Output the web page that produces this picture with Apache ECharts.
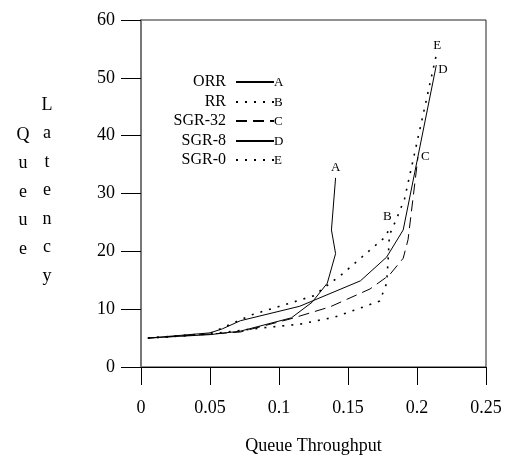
<!DOCTYPE html>
<html>
<head>
<meta charset="utf-8">
<script src="https://cdn.jsdelivr.net/npm/echarts@6/dist/echarts.min.js"></script>
<style>
html,body{margin:0;padding:0;background:#fff;}
#main{width:515px;height:463px;}
</style>
</head>
<body>
<div id="main"></div>
<script>
var chart = echarts.init(document.getElementById('main'));

// 数据 [throughput, latency]
var names = ['ORR', 'RR', 'SGR-32', 'SGR-8', 'SGR-0'];
var letters = ['A', 'B', 'C', 'D', 'E'];
var orr = [[0.005,5],[0.05,5.6],[0.072,6.2],[0.109,8.5],[0.124,11.2],[0.135,14.5],[0.141,19.6],[0.138,23.7],[0.141,32.7]];
var rr = [[0.005,5],[0.05,5.8],[0.08,9.0],[0.125,12.3],[0.146,16.1],[0.178,22.7],[0.18,24.4]];
var sgr32 = [[0.005,5],[0.05,5.7],[0.072,6.05],[0.108,8.3],[0.137,10.4],[0.166,13.5],[0.18,15.9],[0.19,18.8],[0.1935,22],[0.2007,36.3]];
var sgr8 = [[0.005,5],[0.05,5.9],[0.059,6.6],[0.072,8.0],[0.115,10.5],[0.159,14.9],[0.178,19.0],[0.19,23.7],[0.214,52.2]];
var sgr0 = [[0.005,5],[0.05,5.7],[0.085,6.7],[0.115,7.4],[0.14,8.6],[0.159,10.2],[0.173,11.4],[0.178,14.5],[0.179,18.2],[0.18,22.8],[0.1855,25.8],[0.191,29.1],[0.214,54]];
var xTicks = [0, 0.05, 0.1, 0.15, 0.2, 0.25];
var yTicks = [0, 10, 20, 30, 40, 50, 60];

var allData = [orr, rr, sgr32, sgr8, sgr0];
var lineTypes = ['solid', [2, 7], [11, 6], 'solid', [2, 7]];
var lineWidths = [1, 1.6, 1, 1, 1.6];
// 曲线末端字母位置
var endLabelPos = [
    {align:'center', verticalAlign:'bottom', offset:[0,-4]},
    {align:'center', verticalAlign:'bottom', offset:[-2,-3]},
    {align:'left', verticalAlign:'middle', offset:[3,0]},
    {align:'left', verticalAlign:'middle', offset:[2,4]},
    {align:'center', verticalAlign:'bottom', offset:[1,-3]}
];
var serif = 'Liberation Serif';

var series = [];
var legends = [];
var graphics = [];
var legendTop = [83, 103, 122, 142, 161];
for (var i = 0; i < names.length; i++) {
    series.push({
        name: names[i],
        type: 'line',
        data: allData[i],
        symbol: 'none',
        animation: false,
        color: '#000',
        itemStyle: {color: '#000'},
        lineStyle: {color:'#000', width: lineWidths[i], type: lineTypes[i]},
        endLabel: {
            show: true,
            formatter: letters[i],
            distance: 0,
            color: '#000',
            fontFamily: serif,
            fontSize: 13,
            align: endLabelPos[i].align,
            verticalAlign: endLabelPos[i].verticalAlign,
            offset: endLabelPos[i].offset
        }
    });
    legends.push({
        data: [names[i]],
        right: 232,
        top: legendTop[i] - 9,
        align: 'right',
        padding: 0,
        itemWidth: 46,
        itemHeight: 14,
        selectedMode: false,
        itemStyle: {opacity: 0},
        textStyle: {fontFamily: serif, fontSize: 16, color:'#000', padding:[0,5,0,0]}
    });
    graphics.push({
        type: 'text',
        left: 274,
        top: legendTop[i] - 7,
        z: 100,
        style: {text: letters[i], font: '13px "Liberation Serif"', fill:'#000', backgroundColor:'#fff'}
    });
}

// Y轴名称 竖排两列
graphics.push({
    type: 'text', x: 23, y: 121,
    style: {text: 'Q\nu\ne\nu\ne', font: '18px "Liberation Serif"', fill:'#000', align:'center', lineHeight: 28.5}
});
graphics.push({
    type: 'text', x: 47, y: 91,
    style: {text: 'L\na\nt\ne\nn\nc\ny', font: '18px "Liberation Serif"', fill:'#000', align:'center', lineHeight: 28.5}
});

var option = {
    backgroundColor: '#fff',
    animation: false,
    grid: {left: 141, right: 29, top: 20, bottom: 96, show: true, borderColor: '#222', borderWidth: 1},
    legend: legends,
    graphic: graphics,
    xAxis: {
        type: 'value',
        min: xTicks[0],
        max: xTicks[xTicks.length - 1],
        interval: 0.05,
        name: 'Queue Throughput',
        nameLocation: 'middle',
        nameGap: 70,
        nameTextStyle: {fontFamily: serif, fontSize: 18, color:'#000'},
        axisLine: {lineStyle: {color:'#000', width: 1}},
        axisTick: {length: 18, lineStyle: {color:'#000'}},
        axisLabel: {margin: 32, fontFamily: serif, fontSize: 18, color:'#000'},
        splitLine: {show: false}
    },
    yAxis: {
        type: 'value',
        min: yTicks[0],
        max: yTicks[yTicks.length - 1],
        interval: 10,
        axisLine: {show: true, lineStyle: {color:'#777', width: 2}},
        axisTick: {show: true, length: 20, lineStyle: {color:'#000'}},
        axisLabel: {margin: 26, fontFamily: serif, fontSize: 18, color:'#000'},
        splitLine: {show: false}
    },
    series: series
};
chart.setOption(option);
</script>
</body>
</html>
